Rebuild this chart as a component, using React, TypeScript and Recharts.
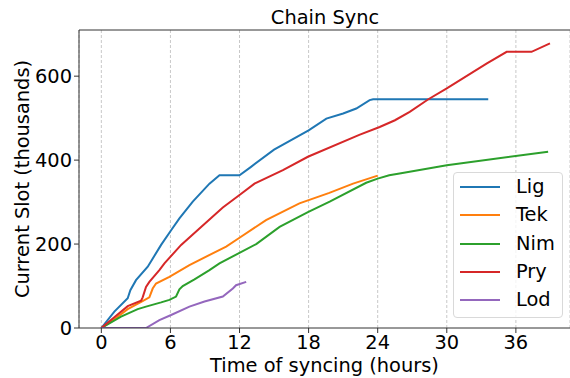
import React from "react";
import { LineChart, Line, XAxis, YAxis, CartesianGrid, ReferenceLine } from "recharts";

type Pt = { x: number; y: number };
const mk = (xs: number[], ys: number[]): Pt[] => xs.map((x, i) => ({ x, y: ys[i] }));

const ligX = [0, 1.13, 2.29, 2.52, 3.01, 4.03, 5.19, 6.06, 6.78, 7.94, 9.39, 10.26, 12, 13, 15, 18, 19.54, 21, 22.14, 23.3, 23.6, 33.6];
const ligY = [0, 39, 71, 90, 114, 146, 198, 233, 261, 301, 344, 364, 364, 384, 425, 471, 499, 511, 523, 543, 545, 545];

const tekX = [0, 1, 2.29, 3.5, 4.17, 4.46, 4.75, 5.91, 7.65, 10.84, 12, 14.3, 17.2, 19.8, 21.86, 24];
const tekY = [0, 18, 45, 63, 73, 94, 106, 122, 150, 194, 215, 257, 297, 322, 344, 363];

const nimX = [0, 1.71, 3.16, 3.88, 5.19, 5.91, 6.49, 6.78, 7.07, 8.09, 9.39, 10.26, 13.45, 15.48, 17.94, 19.83, 23, 24, 25, 25.9, 30, 38.8];
const nimY = [0, 27, 45, 51, 61, 67, 75, 92, 100, 116, 138, 154, 200, 241, 276, 301, 346, 356, 364, 368, 388, 420];

const pryX = [0, 2.29, 3.45, 3.59, 3.88, 4.17, 5.04, 5.48, 6.93, 8.52, 10.55, 12, 13.3, 15.77, 17.94, 22.4, 24.17, 25.5, 26.78, 28.4, 30, 33.45, 35.2, 37.36, 38.96];
const pryY = [0, 52, 65, 73, 98, 110, 138, 154, 198, 237, 287, 317, 344, 376, 408, 460, 479, 495, 515, 545, 571, 630, 658, 658, 678];

const lodX = [0, 3.88, 5.04, 6.06, 7.65, 8.96, 10.55, 11.42, 11.7, 12.58];
const lodY = [0, 0, 19, 31, 51, 63, 75, 94, 102, 110];

const seriesNames = ["Lig", "Tek", "Nim", "Pry", "Lod"];
const seriesColors = ["#1f77b4", "#ff7f0e", "#2ca02c", "#d62728", "#9467bd"];
const seriesData = [mk(ligX, ligY), mk(tekX, tekY), mk(nimX, nimY), mk(pryX, pryY), mk(lodX, lodY)];

const xTicks = [0, 6, 12, 18, 24, 30, 36];
const yTicks = [0, 200, 400, 600];

const FONT = "DejaVu Sans, sans-serif";
const FS = 19.4;

const LegendBox = () => (
  <div
    style={{
      position: "absolute",
      left: 453,
      top: 172,
      border: "1px solid #d9d9d9",
      borderRadius: 4,
      background: "rgba(255,255,255,0.8)",
      width: 110,
      height: 146,
      boxSizing: "border-box",
      paddingTop: 0,
      fontFamily: FONT,
      fontSize: FS,
    }}
  >
    {seriesNames.map((n, i) => (
      <div key={n} style={{ display: "flex", alignItems: "center", height: 28.3 }}>
        <div style={{ width: 40, height: 2, background: seriesColors[i], marginLeft: 6, marginRight: 16 }} />
        <span style={{ color: "#000", lineHeight: "28px" }}>{n}</span>
      </div>
    ))}
  </div>
);

const YLabel = (props: any) => {
  const vb = props.viewBox || { x: 0, y: 30, width: 79, height: 298 };
  const cy = vb.y + vb.height / 2;
  const cx = 22;
  return (
    <text
      x={cx}
      y={cy}
      transform={`rotate(-90, ${cx}, ${cy})`}
      textAnchor="middle"
      dominantBaseline="central"
      fill="#000"
      fontSize={FS}
      fontFamily={FONT}
    >
      Current Slot (thousands)
    </text>
  );
};

export default function App() {
  return (
    <div style={{ position: "absolute", left: 0, top: 0, width: 570, height: 378, background: "#fff" }}>
      <div
        style={{
          position: "absolute",
          left: 0,
          width: 650,
          top: 6,
          textAlign: "center",
          fontFamily: FONT,
          fontSize: FS,
          color: "#000",
          lineHeight: "23px",
        }}
      >
        Chain Sync
      </div>
      <LineChart width={570} height={378} margin={{ top: 30, right: 0, left: 0, bottom: 0 }}>
        <CartesianGrid vertical={true} horizontal={false} stroke="#c8c8c8" strokeDasharray="3 2" />
        <XAxis
          dataKey="x"
          type="number"
          domain={[-1.94, 40.7]}
          ticks={xTicks}
          allowDataOverflow
          height={50}
          stroke="#333"
          tickSize={5}
          tick={{ fill: "#000", fontSize: FS, fontFamily: FONT }}
          tickMargin={2}
          label={{ value: "Time of syncing (hours)", position: "insideBottom", offset: 6, fill: "#000", fontSize: FS, fontFamily: FONT }}
        />
        <YAxis
          dataKey="y"
          type="number"
          domain={[0, 710]}
          ticks={yTicks}
          allowDataOverflow
          width={79}
          stroke="#333"
          tickSize={5}
          tick={{ fill: "#000", fontSize: FS, fontFamily: FONT }}
          tickMargin={2}
          label={{ content: YLabel }}
        />
        <ReferenceLine y={710} stroke="#333" strokeWidth={1} ifOverflow="visible" />
        {seriesNames.map((n, i) => (
          <Line
            key={n}
            data={seriesData[i]}
            dataKey="y"
            name={n}
            type="linear"
            stroke={seriesColors[i]}
            strokeWidth={2}
            dot={false}
            activeDot={false}
            isAnimationActive={false}
          />
        ))}
      </LineChart>
      <LegendBox />
    </div>
  );
}
